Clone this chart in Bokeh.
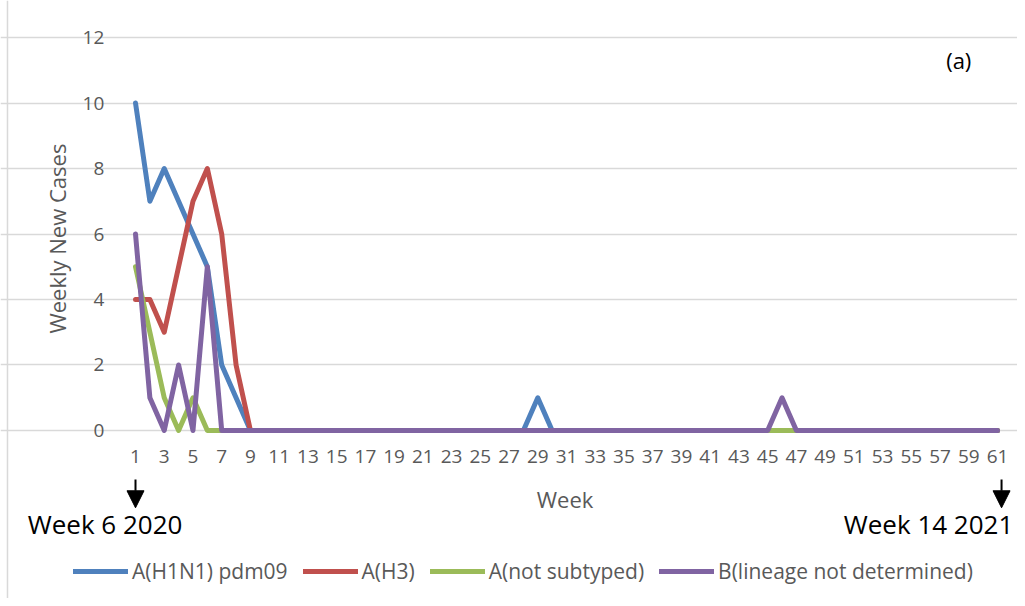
import math
from bokeh.plotting import figure
from bokeh.models import (Range1d, FixedTicker, Label, Arrow, NormalHead, Legend,
                          LegendItem, Span)
from bokeh.embed import file_html
from bokeh.resources import INLINE

# ---------------- data ----------------
weeks = list(range(1, 62))
x_ticks = list(range(1, 62, 2))
y_ticks = [0, 2, 4, 6, 8, 10, 12]

h1n1 = [10, 7, 8, 7, 6, 5, 2, 1, 0, 0,
        0, 0, 0, 0, 0, 0, 0, 0, 0, 0,
        0, 0, 0, 0, 0, 0, 0, 0, 1, 0,
        0, 0, 0, 0, 0, 0, 0, 0, 0, 0,
        0, 0, 0, 0, 0, 0, 0, 0, 0, 0,
        0, 0, 0, 0, 0, 0, 0, 0, 0, 0,
        0]
h3 = [4, 4, 3, 5, 7, 8, 6, 2, 0, 0,
      0, 0, 0, 0, 0, 0, 0, 0, 0, 0,
      0, 0, 0, 0, 0, 0, 0, 0, 0, 0,
      0, 0, 0, 0, 0, 0, 0, 0, 0, 0,
      0, 0, 0, 0, 0, 0, 0, 0, 0, 0,
      0, 0, 0, 0, 0, 0, 0, 0, 0, 0,
      0]
not_subtyped = [5, 3, 1, 0, 1, 0, 0, 0, 0, 0,
                0, 0, 0, 0, 0, 0, 0, 0, 0, 0,
                0, 0, 0, 0, 0, 0, 0, 0, 0, 0,
                0, 0, 0, 0, 0, 0, 0, 0, 0, 0,
                0, 0, 0, 0, 0, 0, 0, 0, 0, 0,
                0, 0, 0, 0, 0, 0, 0, 0, 0, 0,
                0]
b_lineage = [6, 1, 0, 2, 0, 5, 0, 0, 0, 0,
             0, 0, 0, 0, 0, 0, 0, 0, 0, 0,
             0, 0, 0, 0, 0, 0, 0, 0, 0, 0,
             0, 0, 0, 0, 0, 0, 0, 0, 0, 0,
             0, 0, 0, 0, 0, 1, 0, 0, 0, 0,
             0, 0, 0, 0, 0, 0, 0, 0, 0, 0,
             0]

series_names = ["A(H1N1) pdm09", "A(H3)", "A(not subtyped)", "B(lineage not determined)"]
series_values = [h1n1, h3, not_subtyped, b_lineage]
colors = ["#4F81BD", "#C0504D", "#9BBB59", "#8064A2"]

FONT = "Open Sans"
GRAY = "#595959"

# The frame covers the whole canvas so that every annotation is drawn;
# the axes sit at fixed data locations.
p = figure(width=1017, height=598,
           x_range=Range1d(-8.397, 62.39), y_range=Range1d(-5.13, 13.13),
           output_backend="svg", toolbar_location=None,
           min_border_left=0, min_border_right=0,
           min_border_top=0, min_border_bottom=0)
p.outline_line_color = None
p.background_fill_color = "white"
p.border_fill_color = "white"

# axes
p.xaxis.ticker = FixedTicker(ticks=x_ticks)
p.yaxis.ticker = FixedTicker(ticks=y_ticks)
p.xaxis.fixed_location = 0
p.yaxis.fixed_location = 0.5
for ax in (p.xaxis[0], p.yaxis[0]):
    ax.axis_line_color = None
    ax.major_tick_line_color = None
    ax.minor_tick_line_color = None
    ax.major_tick_out = 0
    ax.major_tick_in = 0
    ax.major_label_text_font = FONT
    ax.major_label_text_font_size = "19px"
    ax.major_label_text_color = GRAY
p.xaxis.major_label_standoff = 20
p.yaxis.major_label_standoff = 24

p.xgrid.grid_line_color = None
p.ygrid.grid_line_color = "#D9D9D9"
p.ygrid.grid_line_width = 1.5
p.ygrid.bounds = (0.5, 61.5)

# chart-area left border
p.add_layout(Span(location=-7.91, dimension="height", line_color="#D9D9D9", line_width=1.5))

# lines
items = []
for name, vals, col in zip(series_names, series_values, colors):
    r = p.line(weeks, vals, line_color=col, line_width=5,
               line_join="round", line_cap="round")
    items.append(LegendItem(label=name, renderers=[r]))

legend = Legend(items=items, orientation="horizontal", location=(73, 13),
                glyph_width=55, glyph_height=20, label_standoff=4, spacing=15,
                padding=0, margin=0, border_line_color=None,
                background_fill_alpha=0,
                label_text_font=FONT, label_text_font_size="21px",
                label_text_color=GRAY)
p.add_layout(legend)

# axis titles
p.add_layout(Label(x=-4.43, y=5.86, text="Weekly New Cases", angle=math.pi / 2,
                   text_align="center", text_baseline="middle",
                   text_font=FONT, text_font_size="22px", text_color=GRAY))
p.add_layout(Label(x=30.9, y=-2.08, text="Week",
                   text_align="center", text_baseline="middle",
                   text_font=FONT, text_font_size="22px", text_color=GRAY))

# panel tag
p.add_layout(Label(x=58.3, y=11.3, text="(a)", text_align="center", text_baseline="middle",
                   text_font=FONT, text_font_size="22px", text_color="black"))

# arrows and period labels
for xa in (weeks[0], weeks[-1] + 0.28):
    p.add_layout(Arrow(end=NormalHead(size=17, fill_color="black", line_color="black"),
                       x_start=xa, y_start=-1.5, x_end=xa, y_end=-2.36,
                       line_color="black", line_width=2))
p.add_layout(Label(x=-6.5, y=-2.85, text="Week 6 2020", text_align="left",
                   text_baseline="alphabetic", text_font=FONT,
                   text_font_size="26px", text_color="black"))
p.add_layout(Label(x=62.1, y=-2.85, text="Week 14 2021", text_align="right",
                   text_baseline="alphabetic", text_font=FONT,
                   text_font_size="26px", text_color="black"))

open("out.html", "w").write(file_html(p, INLINE))
